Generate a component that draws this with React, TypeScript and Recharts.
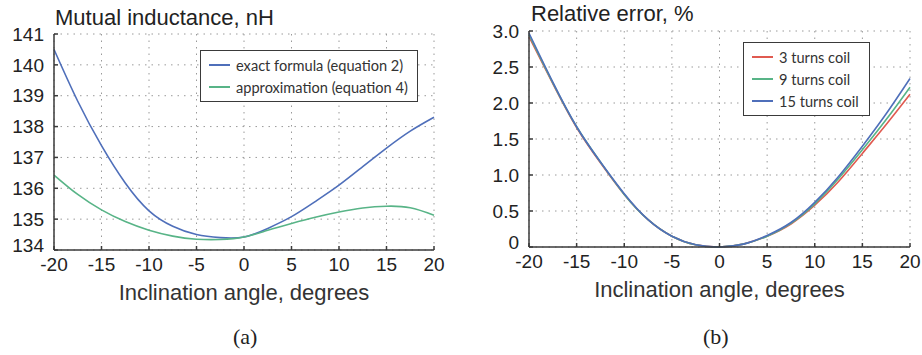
import React from 'react';
import { LineChart, Line, XAxis, YAxis, CartesianGrid, Legend } from 'recharts';

// inclination angle, degrees
const angles = [-20, -17.5, -15, -12.5, -10, -7.5, -5, -2.5, 0, 2.5, 5, 7.5, 10, 12.5, 15, 17.5, 20];

// (a) mutual inductance, nH
const exactFormula = [140.5, 138.82, 137.38, 136.17, 135.27, 134.77, 134.5, 134.4, 134.42, 134.7, 135.08, 135.57, 136.1, 136.7, 137.3, 137.85, 138.3];
const approximation = [136.43, 135.8, 135.3, 134.92, 134.64, 134.45, 134.35, 134.34, 134.42, 134.64, 134.86, 135.06, 135.23, 135.36, 135.42, 135.37, 135.13];

// (b) relative error, %
const turns3 = [2.92, 2.27, 1.66, 1.17, 0.73, 0.38, 0.15, 0.03, 0, 0.04, 0.15, 0.32, 0.58, 0.91, 1.3, 1.7, 2.12];
const turns9 = [2.95, 2.28, 1.67, 1.18, 0.73, 0.38, 0.15, 0.03, 0, 0.04, 0.15, 0.33, 0.6, 0.95, 1.35, 1.77, 2.22];
const turns15 = [2.97, 2.29, 1.67, 1.18, 0.74, 0.38, 0.15, 0.03, 0, 0.04, 0.16, 0.34, 0.62, 0.98, 1.4, 1.85, 2.34];

const xTicks = [-20, -15, -10, -5, 0, 5, 10, 15, 20];
const inductanceTicks = [134, 135, 136, 137, 138, 139, 140, 141];
const errorTicks = [0, 0.5, 1, 1.5, 2, 2.5, 3];

const inductanceNames = ['exact formula (equation 2)', 'approximation (equation 4)'];
const errorNames = ['3 turns coil', '9 turns coil', '15 turns coil'];

const BLUE = '#4f6fba';
const GREEN = '#58b487';
const RED = '#e05a50';
const FRAME = '#3a3a3a';
const SANS = '"Liberation Sans", Arial, sans-serif';
const SERIF = '"Liberation Serif", "Times New Roman", serif';

const inductanceData = angles.map((a, i) => ({ a, exact: exactFormula[i], approx: approximation[i] }));
const errorData = angles.map((a, i) => ({ a, t3: turns3[i], t9: turns9[i], t15: turns15[i] }));

const tickStyle = { fontSize: 19, fill: '#222', fontFamily: SANS };
const axisLabel = { value: 'Inclination angle, degrees', position: 'bottom', offset: 4, fontSize: 22, fill: '#333', fontFamily: SANS };

// y tick; the lowest label sits a little higher, as in the original figure
function YTick({ x, y, payload, lowest, format }: any) {
  const v = payload.value;
  return (
    <text x={x} y={v === lowest ? y - 5 : y} dy="0.355em" textAnchor="end" {...tickStyle}>
      {format ? format(v) : v}
    </text>
  );
}

function LegendBox({ payload, width, order }: any) {
  const items = [...(payload || [])].sort((p: any, q: any) => order.indexOf(p.value) - order.indexOf(q.value));
  return (
    <div
      style={{
        width,
        border: `1.5px solid ${FRAME}`,
        background: '#fff',
        padding: '3px 0 3px 8px',
        fontFamily: 'Lato, sans-serif',
        fontSize: 14.6,
        color: '#333',
        boxSizing: 'border-box',
        textAlign: 'left',
      }}
    >
      {items.map((p: any) => (
        <div key={p.value} style={{ display: 'flex', alignItems: 'center', height: 22, whiteSpace: 'nowrap' }}>
          <span style={{ display: 'inline-block', width: 21, height: 2, background: p.color, marginRight: 6 }} />
          {p.value}
        </div>
      ))}
    </div>
  );
}

const caption: React.CSSProperties = { position: 'absolute', whiteSpace: 'nowrap' };
const errorFormat = (v: number) => (v === 0 ? '0' : v.toFixed(1));

export default function App() {
  return (
    <div style={{ position: 'absolute', left: 0, top: 0, width: 922, height: 355, background: '#fff' }}>
      <div style={{ ...caption, left: 55, top: 5, fontSize: 22, fontFamily: SANS, color: '#222' }}>Mutual inductance, nH</div>
      <div style={{ ...caption, left: 531, top: 1, fontSize: 22, fontFamily: SANS, color: '#222' }}>Relative error, %</div>

      <div style={{ position: 'absolute', left: 0, top: 0 }}>
        <LineChart width={460} height={355} data={inductanceData} margin={{ top: 34, right: 26, bottom: 75, left: 0 }}>
          <CartesianGrid stroke="#9a9a9a" strokeDasharray="1.5 5" />
          <XAxis dataKey="a" type="number" domain={[-20, 20]} ticks={xTicks} height={30}
            tick={tickStyle} tickSize={-4} tickMargin={12} stroke={FRAME} strokeWidth={1.5} label={axisLabel} />
          <XAxis xAxisId="top" orientation="top" dataKey="a" type="number" domain={[-20, 20]} ticks={xTicks} height={0}
            tick={false} tickSize={-4} stroke={FRAME} strokeWidth={1.5} />
          <YAxis type="number" domain={[134, 141]} ticks={inductanceTicks} width={54} interval={0}
            tick={<YTick lowest={134} />} tickSize={-4} tickMargin={14} stroke={FRAME} strokeWidth={1.5} />
          <YAxis yAxisId="right" orientation="right" type="number" domain={[134, 141]} ticks={inductanceTicks} width={0}
            tick={false} tickSize={-4} stroke={FRAME} strokeWidth={1.5} />
          <Legend layout="vertical" verticalAlign="middle" align="center"
            wrapperStyle={{ left: 200, top: 50, width: 218 }}
            content={(props: any) => <LegendBox payload={props.payload} width={218} order={inductanceNames} />} />
          <Line dataKey="exact" name={inductanceNames[0]} type="natural" stroke={BLUE} strokeWidth={1.6} dot={false} isAnimationActive={false} />
          <Line dataKey="approx" name={inductanceNames[1]} type="natural" stroke={GREEN} strokeWidth={1.6} dot={false} isAnimationActive={false} />
        </LineChart>
      </div>

      <div style={{ position: 'absolute', left: 460, top: 0 }}>
        <LineChart width={462} height={355} data={errorData} margin={{ top: 31, right: 12, bottom: 78, left: 0 }}>
          <CartesianGrid stroke="#9a9a9a" strokeDasharray="1.5 5" />
          <XAxis dataKey="a" type="number" domain={[-20, 20]} ticks={xTicks} height={30}
            tick={tickStyle} tickSize={-4} tickMargin={12} stroke={FRAME} strokeWidth={1.5} label={axisLabel} />
          <XAxis xAxisId="top" orientation="top" dataKey="a" type="number" domain={[-20, 20]} ticks={xTicks} height={0}
            tick={false} tickSize={-4} stroke={FRAME} strokeWidth={1.5} />
          <YAxis type="number" domain={[0, 3]} ticks={errorTicks} width={69} interval={0}
            tick={<YTick lowest={0} format={errorFormat} />} tickSize={-4} tickMargin={14} stroke={FRAME} strokeWidth={1.5} />
          <YAxis yAxisId="right" orientation="right" type="number" domain={[0, 3]} ticks={errorTicks} width={0}
            tick={false} tickSize={-4} stroke={FRAME} strokeWidth={1.5} />
          <Legend layout="vertical" verticalAlign="middle" align="center"
            wrapperStyle={{ left: 283, top: 42, width: 127 }}
            content={(props: any) => <LegendBox payload={props.payload} width={127} order={errorNames} />} />
          <Line dataKey="t3" name={errorNames[0]} type="natural" stroke={RED} strokeWidth={1.6} dot={false} isAnimationActive={false} />
          <Line dataKey="t9" name={errorNames[1]} type="natural" stroke={GREEN} strokeWidth={1.6} dot={false} isAnimationActive={false} />
          <Line dataKey="t15" name={errorNames[2]} type="natural" stroke={BLUE} strokeWidth={1.6} dot={false} isAnimationActive={false} />
        </LineChart>
      </div>

      <div style={{ ...caption, left: 233, top: 324, fontSize: 22, fontFamily: SERIF, color: '#222' }}>(a)</div>
      <div style={{ ...caption, left: 703, top: 324, fontSize: 22, fontFamily: SERIF, color: '#222' }}>(b)</div>
    </div>
  );
}
